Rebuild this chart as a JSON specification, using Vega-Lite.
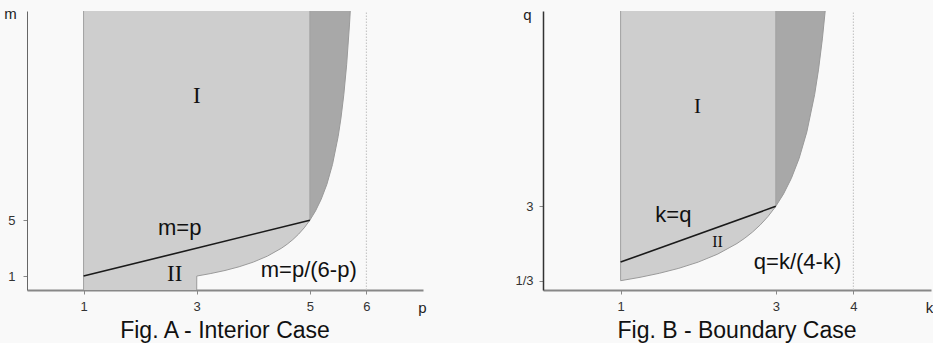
{
  "$schema": "https://vega.github.io/schema/vega-lite/v6.json",
  "background": "#f9f9f9",
  "padding": {"left": 3, "top": 6, "right": 0, "bottom": 0},
  "spacing": 87,
  "config": {
    "view": {"stroke": null},
    "axis": {"labelFont": "Liberation Sans", "titleFont": "Liberation Sans", "grid": false, "labelFontSize": 13, "labelColor": "#333", "titleFontWeight": "normal", "titleFontSize": 15, "titleColor": "#222", "titleAngle": 0, "titleBaseline": "middle", "titleAlign": "center"},
    "title": {"font": "Liberation Sans", "fontSize": 23, "fontWeight": "normal", "color": "#111", "orient": "bottom", "anchor": "middle", "offset": 5}
  },
  "datasets": {
    "aI": [{"x": 1, "y": 1, "y2": 20}, {"x": 5, "y": 5, "y2": 20}],
    "aII": [
      {"x": 1, "y": 0, "y2": 1}, {"x": 3, "y": 0, "y2": 3}, {"x": 3.001, "y": 1, "y2": 3.001},
      {"x": 3.25, "y": 1.1818, "y2": 3.25}, {"x": 3.5, "y": 1.4, "y2": 3.5}, {"x": 3.75, "y": 1.6667, "y2": 3.75},
      {"x": 4, "y": 2, "y2": 4}, {"x": 4.25, "y": 2.4286, "y2": 4.25}, {"x": 4.5, "y": 3, "y2": 4.5},
      {"x": 4.6, "y": 3.2857, "y2": 4.6}, {"x": 4.7, "y": 3.6154, "y2": 4.7}, {"x": 4.8, "y": 4, "y2": 4.8},
      {"x": 4.9, "y": 4.4545, "y2": 4.9}, {"x": 5, "y": 5, "y2": 5}
    ],
    "aDark": [
      {"x": 5, "y": 5, "y2": 20}, {"x": 5.1, "y": 5.6667, "y2": 20}, {"x": 5.2, "y": 6.5, "y2": 20},
      {"x": 5.3, "y": 7.5714, "y2": 20}, {"x": 5.4, "y": 9, "y2": 20}, {"x": 5.5, "y": 11, "y2": 20},
      {"x": 5.55, "y": 12.333, "y2": 20}, {"x": 5.6, "y": 14, "y2": 20}, {"x": 5.65, "y": 16.143, "y2": 20},
      {"x": 5.7, "y": 19, "y2": 20}, {"x": 5.7143, "y": 20, "y2": 20}
    ],
    "aCurve": [
      {"x": 3, "y": 0}, {"x": 3.001, "y": 1}, {"x": 3.25, "y": 1.1818}, {"x": 3.5, "y": 1.4}, {"x": 3.75, "y": 1.6667},
      {"x": 4, "y": 2}, {"x": 4.25, "y": 2.4286}, {"x": 4.5, "y": 3}, {"x": 4.6, "y": 3.2857}, {"x": 4.7, "y": 3.6154},
      {"x": 4.8, "y": 4}, {"x": 4.9, "y": 4.4545}, {"x": 5, "y": 5}, {"x": 5.1, "y": 5.6667}, {"x": 5.2, "y": 6.5},
      {"x": 5.3, "y": 7.5714}, {"x": 5.4, "y": 9}, {"x": 5.5, "y": 11}, {"x": 5.55, "y": 12.333}, {"x": 5.6, "y": 14},
      {"x": 5.65, "y": 16.143}, {"x": 5.7, "y": 19}, {"x": 5.7143, "y": 20}
    ],
    "aEdges": [{"x": 1, "y": 0, "y2": 20}, {"x": 5, "y": 5, "y2": 20}],
    "aBound": [{"x": 1, "y": 1, "x2": 5, "y2": 5}],
    "aDot": [{"x": 6, "y": 0, "y2": 20}],
    "aRoman": [{"x": 3.0, "y": 13.9, "label": "I"}, {"x": 2.61, "y": 1.15, "label": "II"}],
    "aEq": [{"x": 2.70, "y": 4.44, "label": "m=p"}, {"x": 4.98, "y": 1.43, "label": "m=p/(6-p)"}],
    "bI": [{"x": 1, "y": 1, "y2": 10}, {"x": 3, "y": 3, "y2": 10}],
    "bII": [
      {"x": 1, "y": 0.3333, "y2": 1}, {"x": 1.25, "y": 0.4545, "y2": 1.25}, {"x": 1.5, "y": 0.6, "y2": 1.5},
      {"x": 1.75, "y": 0.7778, "y2": 1.75}, {"x": 2, "y": 1, "y2": 2}, {"x": 2.25, "y": 1.2857, "y2": 2.25},
      {"x": 2.5, "y": 1.6667, "y2": 2.5}, {"x": 2.6, "y": 1.8571, "y2": 2.6}, {"x": 2.7, "y": 2.0769, "y2": 2.7},
      {"x": 2.8, "y": 2.3333, "y2": 2.8}, {"x": 2.9, "y": 2.6364, "y2": 2.9}, {"x": 3, "y": 3, "y2": 3}
    ],
    "bDark": [
      {"x": 3, "y": 3, "y2": 10}, {"x": 3.1, "y": 3.4444, "y2": 10}, {"x": 3.2, "y": 4, "y2": 10},
      {"x": 3.3, "y": 4.7143, "y2": 10}, {"x": 3.4, "y": 5.6667, "y2": 10}, {"x": 3.5, "y": 7, "y2": 10},
      {"x": 3.55, "y": 7.8889, "y2": 10}, {"x": 3.6, "y": 9, "y2": 10}, {"x": 3.6364, "y": 10, "y2": 10}
    ],
    "bCurve": [
      {"x": 1, "y": 0.3333}, {"x": 1.25, "y": 0.4545}, {"x": 1.5, "y": 0.6}, {"x": 1.75, "y": 0.7778}, {"x": 2, "y": 1},
      {"x": 2.25, "y": 1.2857}, {"x": 2.5, "y": 1.6667}, {"x": 2.6, "y": 1.8571}, {"x": 2.7, "y": 2.0769}, {"x": 2.8, "y": 2.3333},
      {"x": 2.9, "y": 2.6364}, {"x": 3, "y": 3}, {"x": 3.1, "y": 3.4444}, {"x": 3.2, "y": 4}, {"x": 3.3, "y": 4.7143},
      {"x": 3.4, "y": 5.6667}, {"x": 3.5, "y": 7}, {"x": 3.55, "y": 7.8889}, {"x": 3.6, "y": 9}, {"x": 3.6364, "y": 10}
    ],
    "bEdges": [{"x": 1, "y": 0.3333, "y2": 10}, {"x": 3, "y": 3, "y2": 10}],
    "bBound": [{"x": 1, "y": 1, "x2": 3, "y2": 3}],
    "bDot": [{"x": 4, "y": 0, "y2": 10}],
    "bRomanBig": [{"x": 1.99, "y": 6.56, "label": "I"}],
    "bRomanSmall": [{"x": 2.25, "y": 1.72, "label": "II"}],
    "bEq": [{"x": 1.68, "y": 2.69, "label": "k=q"}, {"x": 3.28, "y": 1.0, "label": "q=k/(4-k)"}]
  },
  "hconcat": [
    {
      "width": 396,
      "height": 279,
      "title": {"text": "Fig. A - Interior Case"},
      "encoding": {
        "x": {"type": "quantitative", "scale": {"domain": [0, 7], "nice": false, "zero": false},
          "axis": {"values": [1, 3, 5, 6], "title": "p", "domainColor": "#888", "domainWidth": 2, "tickColor": "#888", "tickSize": 4, "labelPadding": 6, "titleX": 395, "titleY": 17}},
        "y": {"type": "quantitative", "scale": {"domain": [0, 20], "nice": false, "zero": false},
          "axis": {"values": [1, 5], "title": "m", "domainColor": "#666", "domainWidth": 1, "tickColor": "#888", "tickSize": 4, "labelPadding": 8, "titleX": -17, "titleY": 2}}
      },
      "layer": [
        {"data": {"name": "aI"}, "mark": {"type": "area", "orient": "vertical", "fill": "#cecece"},
          "encoding": {"x": {"field": "x", "type": "quantitative"}, "y": {"field": "y", "type": "quantitative"}, "y2": {"field": "y2"}}},
        {"data": {"name": "aII"}, "mark": {"type": "area", "orient": "vertical", "fill": "#cecece"},
          "encoding": {"x": {"field": "x", "type": "quantitative"}, "y": {"field": "y", "type": "quantitative"}, "y2": {"field": "y2"}}},
        {"data": {"name": "aDark"}, "mark": {"type": "area", "orient": "vertical", "fill": "#a8a8a8"},
          "encoding": {"x": {"field": "x", "type": "quantitative"}, "y": {"field": "y", "type": "quantitative"}, "y2": {"field": "y2"}}},
        {"data": {"name": "aCurve"}, "mark": {"type": "line", "stroke": "#9a9a9a", "strokeWidth": 1},
          "encoding": {"x": {"field": "x", "type": "quantitative"}, "y": {"field": "y", "type": "quantitative"}}},
        {"data": {"name": "aEdges"}, "mark": {"type": "rule", "stroke": "#a0a0a0", "strokeWidth": 1},
          "encoding": {"x": {"field": "x", "type": "quantitative"}, "y": {"field": "y", "type": "quantitative"}, "y2": {"field": "y2"}}},
        {"data": {"name": "aDot"}, "mark": {"type": "rule", "stroke": "#c8c8c8", "strokeWidth": 1.2, "strokeDash": [1.5, 1.5]},
          "encoding": {"x": {"field": "x", "type": "quantitative"}, "y": {"field": "y", "type": "quantitative"}, "y2": {"field": "y2"}}},
        {"data": {"name": "aBound"}, "mark": {"type": "rule", "stroke": "#1a1a1a", "strokeWidth": 1.6},
          "encoding": {"x": {"field": "x", "type": "quantitative"}, "y": {"field": "y", "type": "quantitative"}, "x2": {"field": "x2"}, "y2": {"field": "y2"}}},
        {"data": {"name": "aRoman"}, "mark": {"type": "text", "font": "Liberation Serif", "fontSize": 23, "color": "#111", "align": "center", "baseline": "middle"},
          "encoding": {"x": {"field": "x", "type": "quantitative"}, "y": {"field": "y", "type": "quantitative"}, "text": {"field": "label"}}},
        {"data": {"name": "aEq"}, "mark": {"type": "text", "font": "Liberation Sans", "fontSize": 22, "color": "#111", "align": "center", "baseline": "middle"},
          "encoding": {"x": {"field": "x", "type": "quantitative"}, "y": {"field": "y", "type": "quantitative"}, "text": {"field": "label"}}}
      ]
    },
    {
      "width": 388,
      "height": 279,
      "title": {"text": "Fig. B - Boundary Case"},
      "encoding": {
        "x": {"type": "quantitative", "scale": {"domain": [0, 5], "nice": false, "zero": false},
          "axis": {"values": [1, 3, 4], "title": "k", "domainColor": "#888", "domainWidth": 2, "tickColor": "#888", "tickSize": 4, "labelPadding": 6, "titleX": 386, "titleY": 17}},
        "y": {"type": "quantitative", "scale": {"domain": [0, 10], "nice": false, "zero": false},
          "axis": {"values": [0.3333333, 3], "labelExpr": "datum.value < 1 ? '1/3' : datum.label", "title": "q", "domainColor": "#333", "domainWidth": 1.5, "tickColor": "#888", "tickSize": 4, "labelPadding": 6, "titleX": -16, "titleY": 3}}
      },
      "layer": [
        {"data": {"name": "bI"}, "mark": {"type": "area", "orient": "vertical", "fill": "#cecece"},
          "encoding": {"x": {"field": "x", "type": "quantitative"}, "y": {"field": "y", "type": "quantitative"}, "y2": {"field": "y2"}}},
        {"data": {"name": "bII"}, "mark": {"type": "area", "orient": "vertical", "fill": "#cecece"},
          "encoding": {"x": {"field": "x", "type": "quantitative"}, "y": {"field": "y", "type": "quantitative"}, "y2": {"field": "y2"}}},
        {"data": {"name": "bDark"}, "mark": {"type": "area", "orient": "vertical", "fill": "#a8a8a8"},
          "encoding": {"x": {"field": "x", "type": "quantitative"}, "y": {"field": "y", "type": "quantitative"}, "y2": {"field": "y2"}}},
        {"data": {"name": "bCurve"}, "mark": {"type": "line", "stroke": "#9a9a9a", "strokeWidth": 1},
          "encoding": {"x": {"field": "x", "type": "quantitative"}, "y": {"field": "y", "type": "quantitative"}}},
        {"data": {"name": "bEdges"}, "mark": {"type": "rule", "stroke": "#a0a0a0", "strokeWidth": 1},
          "encoding": {"x": {"field": "x", "type": "quantitative"}, "y": {"field": "y", "type": "quantitative"}, "y2": {"field": "y2"}}},
        {"data": {"name": "bDot"}, "mark": {"type": "rule", "stroke": "#c8c8c8", "strokeWidth": 1.2, "strokeDash": [1.5, 1.5]},
          "encoding": {"x": {"field": "x", "type": "quantitative"}, "y": {"field": "y", "type": "quantitative"}, "y2": {"field": "y2"}}},
        {"data": {"name": "bBound"}, "mark": {"type": "rule", "stroke": "#1a1a1a", "strokeWidth": 1.6},
          "encoding": {"x": {"field": "x", "type": "quantitative"}, "y": {"field": "y", "type": "quantitative"}, "x2": {"field": "x2"}, "y2": {"field": "y2"}}},
        {"data": {"name": "bRomanBig"}, "mark": {"type": "text", "font": "Liberation Serif", "fontSize": 21, "color": "#111", "align": "center", "baseline": "middle"},
          "encoding": {"x": {"field": "x", "type": "quantitative"}, "y": {"field": "y", "type": "quantitative"}, "text": {"field": "label"}}},
        {"data": {"name": "bRomanSmall"}, "mark": {"type": "text", "font": "Liberation Serif", "fontSize": 16, "color": "#111", "align": "center", "baseline": "middle"},
          "encoding": {"x": {"field": "x", "type": "quantitative"}, "y": {"field": "y", "type": "quantitative"}, "text": {"field": "label"}}},
        {"data": {"name": "bEq"}, "mark": {"type": "text", "font": "Liberation Sans", "fontSize": 22, "color": "#111", "align": "center", "baseline": "middle"},
          "encoding": {"x": {"field": "x", "type": "quantitative"}, "y": {"field": "y", "type": "quantitative"}, "text": {"field": "label"}}}
      ]
    }
  ]
}
